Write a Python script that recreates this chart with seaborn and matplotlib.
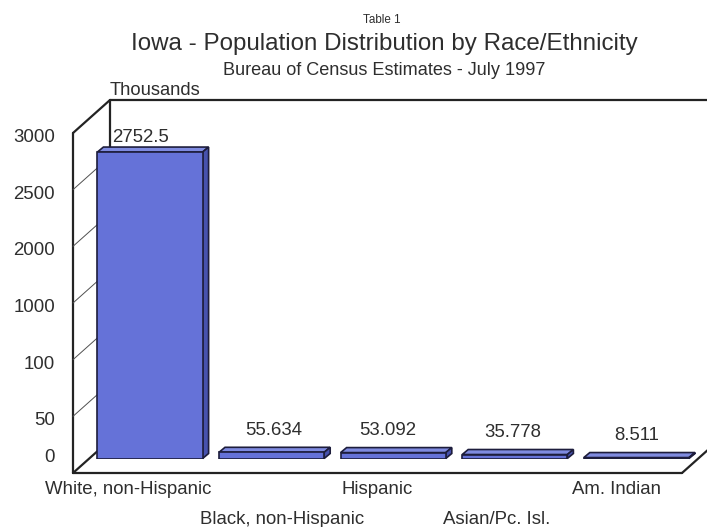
import matplotlib
matplotlib.use("Agg")
import numpy as np
import pandas as pd
import seaborn as sns
import matplotlib.pyplot as plt
from matplotlib.patches import Polygon
from matplotlib.transforms import ScaledTranslation, blended_transform_factory

# Iowa population by race/ethnicity, July 1997 (thousands)
categories = ["White, non-Hispanic", "Black, non-Hispanic", "Hispanic",
              "Asian/Pc. Isl.", "Am. Indian"]
population = [2752.5, 55.634, 53.092, 35.778, 8.511]
value_labels = ["2752.5", "55.634", "53.092", "35.778", "8.511"]
tick_values = [0, 500, 1000, 1500, 2000, 2500, 3000]
tick_labels = ["0", "50", "100", "1000", "2000", "2500", "3000"]

sns.set_theme(style="white")
plt.rcParams["font.family"] = ["Liberation Sans", "DejaVu Sans"]

W, H, DPI = 707, 527, 100
TEXT = "#2e2e2e"
LINE = "#232323"
FRONT = "#6572d8"
TOP = "#7f8be0"
SIDE = "#4752ae"
EDGE = "#1d1d3c"

fig = plt.figure(figsize=(W / DPI, H / DPI), dpi=DPI)
fig.patch.set_facecolor("white")


def px_rect(left, right, bottom, top):
    return [left / W, 1 - bottom / H, (right - left) / W, (bottom - top) / H]


def px_to_data(a, dx_px, dy_px):
    inv = a.transData.inverted()
    xa, ya = inv.transform((0, 0))
    xb, yb = inv.transform((dx_px, dy_px))
    return xb - xa, yb - ya


# front plane of the 3-D box: walls, value axis labels, category labels
axf = fig.add_axes(px_rect(73, 682, 473, 133))
axf.set_xlim(-0.533, 4.542)
axf.set_ylim(0, 3000)
axf.set_axis_off()

# bar plane, set back inside the box
ax = fig.add_axes(px_rect(90, 700, 458.5, 124.5))
ax.patch.set_alpha(0)

# ---- box: left wall, floor and back wall outline ----
ddx, ddy = px_to_data(axf, 37, 33)
x0, x1 = axf.get_xlim()
kw = dict(color=LINE, clip_on=False, solid_capstyle="round", lw=1.6)
axf.plot([x0, x0], [0, 3000], **kw)
axf.plot([x0, x1], [0, 0], **kw)
axf.plot([x1, x1 + ddx], [0, ddy], **kw)
axf.plot([x0 + ddx, x0 + ddx], [ddy, 3000 + ddy], **kw)
axf.plot([x0 + ddx, x1 + 3 * ddx], [3000 + ddy, 3000 + ddy], **kw)
for t in tick_values:
    edge = t in (0, 3000)
    axf.plot([x0, x0 + ddx], [t, t + ddy], clip_on=False,
             color=LINE if edge else "#505050", lw=1.6 if edge else 0.7)

# value-axis labels
ytr = blended_transform_factory(axf.transAxes, axf.transData)
for t, s in zip(tick_values, tick_labels):
    shift = 11 if t == 0 else -9
    tr = ytr + ScaledTranslation(-18 / DPI, shift / DPI, fig.dpi_scale_trans)
    axf.text(0, t, s, transform=tr, ha="right", va="baseline",
             fontsize=13.4, color=TEXT)

# category labels, staggered on two rows
cat_nudge = [-9, 25, 0, 0, 0]
for i, name in enumerate(categories):
    drop = 21 if i % 2 == 0 else 51
    tr = axf.transData + ScaledTranslation(cat_nudge[i] / DPI, -drop / DPI,
                                           fig.dpi_scale_trans)
    axf.text(i, 0, name, transform=tr, ha="center", va="baseline",
             fontsize=13.4, color=TEXT)

# ---- bars ----
df = pd.DataFrame({"category": categories, "population": population})
sns.barplot(data=df, x="category", y="population", ax=ax, color=FRONT,
            saturation=1, width=0.865, edgecolor=EDGE, linewidth=1.2,
            errorbar=None, zorder=3)
ax.set_xlim(-0.4934, 4.523)
ax.set_ylim(0, 3000)
ax.set_axis_off()

bdx, bdy = px_to_data(ax, 6, 5)
for p in list(ax.patches):
    bx, bw, bh = p.get_x(), p.get_width(), p.get_height()
    top = [(bx, bh), (bx + bdx, bh + bdy), (bx + bw + bdx, bh + bdy), (bx + bw, bh)]
    side = [(bx + bw, 0), (bx + bw + bdx, bdy), (bx + bw + bdx, bh + bdy), (bx + bw, bh)]
    ax.add_patch(Polygon(top, closed=True, facecolor=TOP, edgecolor=EDGE,
                         lw=1.2, zorder=2.9, clip_on=False))
    ax.add_patch(Polygon(side, closed=True, facecolor=SIDE, edgecolor=EDGE,
                         lw=1.2, zorder=2.9, clip_on=False))

# value labels above bars, kept inside the box ceiling
_, upp = px_to_data(ax, 0, 1)
ppx, _ = px_to_data(ax, 1, 0)
value_dx = [-9, 2, -5, -2, 0]
for i, (v, s) in enumerate(zip(population, value_labels)):
    center = min(v + 24 * upp, 3000 - 10.5 * upp)
    ax.text(i + value_dx[i] * ppx, center - 6.7 * upp, s, ha="center",
            va="baseline", fontsize=13.4, color=TEXT, clip_on=False)

# ---- titles ----
fig.text(382 / W, 1 - 23 / H, "Table 1", ha="center", va="baseline",
         fontsize=8.4, color=TEXT)
fig.text(384 / W, 1 - 49.5 / H, "Iowa - Population Distribution by Race/Ethnicity",
         ha="center", va="baseline", fontsize=17.4, color=TEXT)
fig.text(384 / W, 1 - 75 / H, "Bureau of Census Estimates - July 1997",
         ha="center", va="baseline", fontsize=13.1, color=TEXT)
fig.text(110 / W, 1 - 95 / H, "Thousands", ha="left", va="baseline",
         fontsize=13.2, color=TEXT)

fig.savefig("out.png", dpi=DPI, facecolor="white")
